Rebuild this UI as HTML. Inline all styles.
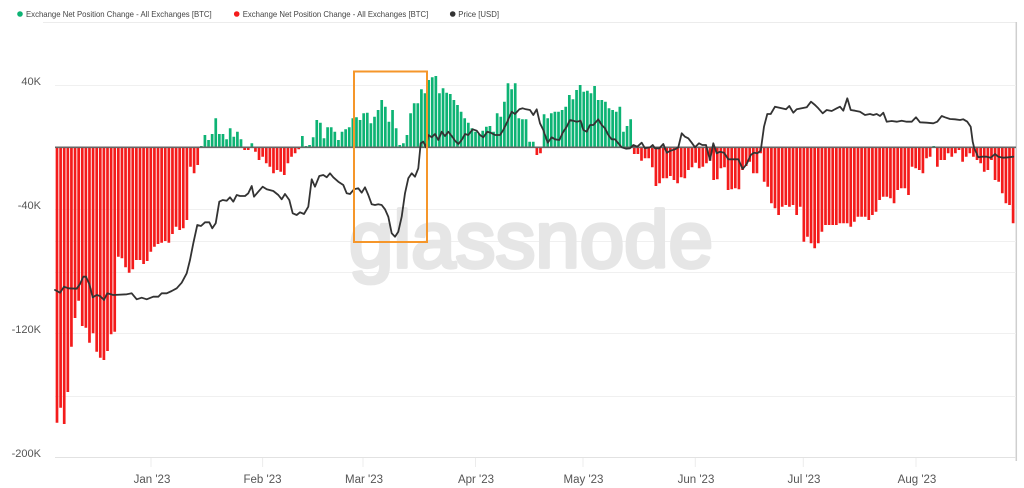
<!DOCTYPE html>
<html>
<head>
<meta charset="utf-8">
<style>
html,body{margin:0;padding:0;background:#fff;}
body{width:1024px;height:488px;overflow:hidden;}
svg{display:block;font-family:"Liberation Sans",sans-serif;}
</style>
</head>
<body>
<svg width="1024" height="488" viewBox="0 0 1024 488" xmlns="http://www.w3.org/2000/svg">
<!-- legend -->
<circle cx="20" cy="14" r="2.8" fill="#0db374"/>
<text x="26" y="17" font-size="8.5" fill="#444" textLength="185.7" lengthAdjust="spacingAndGlyphs">Exchange Net Position Change - All Exchanges [BTC]</text>
<circle cx="236.7" cy="14" r="2.8" fill="#f41b1b"/>
<text x="242.7" y="17" font-size="8.5" fill="#444" textLength="185.6" lengthAdjust="spacingAndGlyphs">Exchange Net Position Change - All Exchanges [BTC]</text>
<circle cx="452.7" cy="14" r="2.8" fill="#333"/>
<text x="458.3" y="17" font-size="8.5" fill="#444" textLength="40.7" lengthAdjust="spacingAndGlyphs">Price [USD]</text>

<!-- frame -->
<line x1="43" y1="22.5" x2="1016" y2="22.5" stroke="#ececec" stroke-width="1"/>
<line x1="1016.3" y1="22" x2="1016.3" y2="461" stroke="#cfcfcf" stroke-width="1.5"/>

<!-- gridlines -->
<g stroke="#f0f0f0" stroke-width="1">
<line x1="55" y1="85.5" x2="1016" y2="85.5"/>
<line x1="55" y1="209.5" x2="1016" y2="209.5"/>
<line x1="55" y1="241.5" x2="1016" y2="241.5"/>
<line x1="55" y1="272.5" x2="1016" y2="272.5"/>
<line x1="55" y1="333.5" x2="1016" y2="333.5"/>
<line x1="55" y1="396.5" x2="1016" y2="396.5"/>
</g>
<line x1="55" y1="457.5" x2="1016" y2="457.5" stroke="#e2e2e2" stroke-width="1"/>
<g stroke="#ececec" stroke-width="1">
<line x1="151" y1="458" x2="151" y2="467"/>
<line x1="262.6" y1="458" x2="262.6" y2="467"/>
<line x1="363" y1="458" x2="363" y2="467"/>
<line x1="475.5" y1="458" x2="475.5" y2="467"/>
<line x1="583" y1="458" x2="583" y2="467"/>
<line x1="695.3" y1="458" x2="695.3" y2="467"/>
<line x1="803.3" y1="458" x2="803.3" y2="467"/>
<line x1="916" y1="458" x2="916" y2="467"/>
</g>

<!-- watermark -->
<text x="349" y="267" font-size="80" fill="#e6e6e6" stroke="#e6e6e6" stroke-width="3.8" stroke-linejoin="round" textLength="364" lengthAdjust="spacingAndGlyphs">glassnode</text>

<!-- red bars -->
<path fill="#f41b1b" d="M55.65 147
V422.7h2.7V147zm3.608 0V407.7h2.7V147zm3.608 0V424h2.7V147zm3.608 0V392h2.7V147zm3.608 0V346.7h2.7V147zm3.608 0V318h2.7V147zm3.608 0V300.7h2.7V147zm3.608 0V326h2.7V147zm3.608 0V327.7h2.7V147zm3.608 0V342.7h2.7V147zm3.608 0
V333.3h2.7V147zm3.608 0V351.7h2.7V147zm3.608 0V357.7h2.7V147zm3.608 0V360h2.7V147zm3.608 0V351h2.7V147zm3.608 0V334.3h2.7V147zm3.608 0V331.7h2.7V147zm3.608 0V256.7h2.7V147zm3.608 0V258.3h2.7V147zm3.608 0V267.3h2.7V147zm3.608 0
V272.7h2.7V147zm3.608 0V269.3h2.7V147zm3.608 0V260h2.7V147zm3.608 0V260h2.7V147zm3.608 0V264h2.7V147zm3.608 0V261h2.7V147zm3.608 0V251.7h2.7V147zm3.608 0V246.7h2.7V147zm3.608 0V244h2.7V147zm3.608 0V242.7h2.7V147zm3.608 0
V241h2.7V147zm3.608 0V242.7h2.7V147zm3.608 0V234h2.7V147zm3.608 0V226.7h2.7V147zm3.608 0V230h2.7V147zm3.608 0V228.3h2.7V147zm3.608 0V220h2.7V147zm3.608 0V166.7h2.7V147zm3.608 0V173.3h2.7V147zm3.608 0V165h2.7V147zm3.608 0
m43.296 0
V150h2.7V147zm3.608 0V150h2.7V147zm3.608 0
m3.608 0
V151.7h2.7V147zm3.608 0V160h2.7V147zm3.608 0V156.7h2.7V147zm3.608 0V163.3h2.7V147zm3.608 0V166.7h2.7V147zm3.608 0V173.3h2.7V147zm3.608 0V170h2.7V147zm3.608 0V171.7h2.7V147zm3.608 0V175h2.7V147zm3.608 0V163.3h2.7V147zm3.608 0V156.7h2.7V147zm3.608 0V153.3h2.7V147zm3.608 0V149.3h2.7V147zm3.608 0
m234.52 0
V155h2.7V147zm3.608 0V153.3h2.7V147zm3.608 0
m90.2 0
V154h2.7V147zm3.608 0V154h2.7V147zm3.608 0V160.7h2.7V147zm3.608 0V158.3h2.7V147zm3.608 0V158.3h2.7V147zm3.608 0V167.3h2.7V147zm3.608 0V186h2.7V147zm3.608 0V183.3h2.7V147zm3.608 0V178.3h2.7V147zm3.608 0V178.3h2.7V147zm3.608 0
V176h2.7V147zm3.608 0V180h2.7V147zm3.608 0V183.3h2.7V147zm3.608 0V177.3h2.7V147zm3.608 0V178.3h2.7V147zm3.608 0V170h2.7V147zm3.608 0V167.3h2.7V147zm3.608 0V162.7h2.7V147zm3.608 0V168.3h2.7V147zm3.608 0V166.7h2.7V147zm3.608 0
V163.3h2.7V147zm3.608 0V160.7h2.7V147zm3.608 0V180h2.7V147zm3.608 0V179.3h2.7V147zm3.608 0V168.3h2.7V147zm3.608 0V167.3h2.7V147zm3.608 0V190h2.7V147zm3.608 0V189.3h2.7V147zm3.608 0V188.3h2.7V147zm3.608 0V189.3h2.7V147zm3.608 0
V170h2.7V147zm3.608 0V166h2.7V147zm3.608 0
V161.7h2.7V147zm3.608 0V173.3h2.7V147zm3.608 0V173.3h2.7V147zm3.608 0V153.3h2.7V147zm3.608 0V181.7h2.7V147zm3.608 0V186.7h2.7V147zm3.608 0V203.3h2.7V147zm3.608 0V208.3h2.7V147zm3.608 0V215h2.7V147zm3.608 0
V206.7h2.7V147zm3.608 0V205h2.7V147zm3.608 0V206.7h2.7V147zm3.608 0V205h2.7V147zm3.608 0V215h2.7V147zm3.608 0V206.7h2.7V147zm3.608 0V241.7h2.7V147zm3.608 0V236.7h2.7V147zm3.608 0V243.3h2.7V147zm3.608 0V248.3h2.7V147zm3.608 0
V243.3h2.7V147zm3.608 0V231.7h2.7V147zm3.608 0V225h2.7V147zm3.608 0V225h2.7V147zm3.608 0V225h2.7V147zm3.608 0V225h2.7V147zm3.608 0V223.3h2.7V147zm3.608 0V223.3h2.7V147zm3.608 0V223.3h2.7V147zm3.608 0V226.7h2.7V147zm3.608 0
V221.7h2.7V147zm3.608 0V216.7h2.7V147zm3.608 0V216.7h2.7V147zm3.608 0V216.7h2.7V147zm3.608 0V220h2.7V147zm3.608 0V215h2.7V147zm3.608 0V211.7h2.7V147zm3.608 0V200h2.7V147zm3.608 0V196.7h2.7V147zm3.608 0V196.7h2.7V147zm3.608 0
V198.3h2.7V147zm3.608 0V203.3h2.7V147zm3.608 0V190h2.7V147zm3.608 0V188.3h2.7V147zm3.608 0V188.3h2.7V147zm3.608 0V195h2.7V147zm3.608 0V166.7h2.7V147zm3.608 0V168.3h2.7V147zm3.608 0V170h2.7V147zm3.608 0V173.3h2.7V147zm3.608 0
V158.3h2.7V147zm3.608 0V156.7h2.7V147zm3.608 0
m3.608 0
V166.7h2.7V147zm3.608 0V160h2.7V147zm3.608 0V160h2.7V147zm3.608 0V153.3h2.7V147zm3.608 0V156.7h2.7V147zm3.608 0V153.3h2.7V147zm3.608 0V150h2.7V147zm3.608 0V161.7h2.7V147zm3.608 0V156.7h2.7V147zm3.608 0V153.3h2.7V147zm3.608 0
V156.7h2.7V147zm3.608 0V160h2.7V147zm3.608 0V163.3h2.7V147zm3.608 0V171.7h2.7V147zm3.608 0V170h2.7V147zm3.608 0V160h2.7V147zm3.608 0V180h2.7V147zm3.608 0V181.7h2.7V147zm3.608 0V193.3h2.7V147zm3.608 0V203.3h2.7V147zm3.608 0
V205h2.7V147zm3.608 0V223.3h2.7V147zm3.608 0"/>

<!-- green bars -->
<path fill="#0db374" d="M55.65 147 m144.32 0
V146h2.7V147zm3.608 0V135h2.7V147zm3.608 0V140h2.7V147zm3.608 0V134h2.7V147zm3.608 0V118.3h2.7V147zm3.608 0V134h2.7V147zm3.608 0V134h2.7V147zm3.608 0V139.3h2.7V147zm3.608 0V128.3h2.7V147zm3.608 0V136.7h2.7V147zm3.608 0
V131.7h2.7V147zm3.608 0V139.3h2.7V147zm3.608 0
m7.216 0
V143.3h2.7V147zm3.608 0
m46.904 0
V136h2.7V147zm3.608 0V146h2.7V147zm3.608 0V145h2.7V147zm3.608 0V137.3h2.7V147zm3.608 0V120h2.7V147zm3.608 0V122.7h2.7V147zm3.608 0V138.3h2.7V147zm3.608 0V127.3h2.7V147zm3.608 0V127.3h2.7V147zm3.608 0V131.7h2.7V147zm3.608 0
V140h2.7V147zm3.608 0V131.7h2.7V147zm3.608 0V129.3h2.7V147zm3.608 0V127.3h2.7V147zm3.608 0V118.3h2.7V147zm3.608 0V117.3h2.7V147zm3.608 0V120h2.7V147zm3.608 0V113.3h2.7V147zm3.608 0V112.7h2.7V147zm3.608 0V123.3h2.7V147zm3.608 0
V116.7h2.7V147zm3.608 0V110h2.7V147zm3.608 0V100h2.7V147zm3.608 0V106.7h2.7V147zm3.608 0V121.7h2.7V147zm3.608 0V110h2.7V147zm3.608 0V128.3h2.7V147zm3.608 0V145h2.7V147zm3.608 0V143.3h2.7V147zm3.608 0V135h2.7V147zm3.608 0
V113.3h2.7V147zm3.608 0V103.3h2.7V147zm3.608 0V103.3h2.7V147zm3.608 0V89.3h2.7V147zm3.608 0V93.3h2.7V147zm3.608 0V80h2.7V147zm3.608 0V77.3h2.7V147zm3.608 0V76h2.7V147zm3.608 0V93.3h2.7V147zm3.608 0V88.3h2.7V147zm3.608 0
V92.7h2.7V147zm3.608 0V94h2.7V147zm3.608 0V100h2.7V147zm3.608 0V105h2.7V147zm3.608 0V111.7h2.7V147zm3.608 0V118.3h2.7V147zm3.608 0V122.7h2.7V147zm3.608 0V128.3h2.7V147zm3.608 0V131.7h2.7V147zm3.608 0V134h2.7V147zm3.608 0
V130.7h2.7V147zm3.608 0V126.7h2.7V147zm3.608 0V126h2.7V147zm3.608 0V131.7h2.7V147zm3.608 0V113.3h2.7V147zm3.608 0V116.7h2.7V147zm3.608 0V101.7h2.7V147zm3.608 0V83.3h2.7V147zm3.608 0V89.3h2.7V147zm3.608 0V83.3h2.7V147zm3.608 0
V118.3h2.7V147zm3.608 0V119.3h2.7V147zm3.608 0V119.3h2.7V147zm3.608 0V141.7h2.7V147zm3.608 0V141.7h2.7V147zm3.608 0
m7.216 0
V114.3h2.7V147zm3.608 0V118.3h2.7V147zm3.608 0V113.3h2.7V147zm3.608 0V111.7h2.7V147zm3.608 0V111.7h2.7V147zm3.608 0V110h2.7V147zm3.608 0V106.7h2.7V147zm3.608 0V95h2.7V147zm3.608 0V99.3h2.7V147zm3.608 0V90h2.7V147zm3.608 0
V85h2.7V147zm3.608 0V91.7h2.7V147zm3.608 0V90.7h2.7V147zm3.608 0V93.3h2.7V147zm3.608 0V86h2.7V147zm3.608 0V100h2.7V147zm3.608 0V100h2.7V147zm3.608 0V101.7h2.7V147zm3.608 0V108.3h2.7V147zm3.608 0V110h2.7V147zm3.608 0
V111.7h2.7V147zm3.608 0V106.7h2.7V147zm3.608 0V131.7h2.7V147zm3.608 0V126h2.7V147zm3.608 0V119.3h2.7V147zm3.608 0
m299.464 0
V146h2.7V147zm3.608 0"/>

<!-- zero baseline -->
<line x1="55" y1="147.3" x2="1016" y2="147.3" stroke="#666" stroke-width="1.6"/>

<!-- price line -->
<polyline fill="none" stroke="#333" stroke-width="1.8" stroke-linejoin="round" stroke-linecap="round" points="55,290 60,292.7 64,286.7 68.3,288.3 76.7,288.7 80,284 83.3,276.7 86,276.7 89.3,284 92.7,297.3 96.7,295 100,296 104,300 107.3,293.3 113.3,295 126.7,294.3 131.7,293.3 136.7,299.3 141.7,297.7 146.7,299.3 153.3,296.7 158.3,296.7 161.7,293.3 166.7,293.3 171.7,291 176.7,288.3 181.7,282.7 186.7,273.3 190,260 193.3,243.3 197.3,225 201,226 205,222.3 209.3,222.3 212.3,228.3 215.7,223.3 219.3,201.7 222.7,200 226.7,200.7 230,197.3 233.3,201.7 236.7,195 240,196 245,196 248.3,193.3 251.7,186 254,196.7 258.3,191.7 262.7,186.7 266.7,189.3 273.3,191 278.3,195 281.7,199.3 285,194 289.3,200 292.7,213.3 296.7,215 300,212.3 304,214 308.3,206.7 311.7,179.3 315,186.7 319.3,176 323.3,175 326.7,177.3 330,173.3 333.3,177.3 338.3,181.7 343.3,185 346.7,193.3 350,194 354,189.3 358.3,188.3 361.7,192.7 365,187.3 368.3,195 371.7,204.3 375,205 378.3,204.3 381.7,205 385,209.3 388.3,216.7 391.7,233.3 395,236.7 398.3,231.7 401.7,216.7 405,193.3 408.3,178.3 411.7,173.3 415,176.7 418.3,168.3 420.7,143.3 423.3,141.7 426,147.3 428.3,135 431.7,137.3 435,134 438.3,140 441.7,131.7 445,136 448.3,131.7 451.7,136 455,140.7 458.3,144 461.7,140 465,134 468.3,135 472.7,129.3 476.7,130.7 480,135 483.3,137.3 487.3,131.7 490.7,132.7 495,135 500,135 503.3,130 507.3,121.7 511.7,111.7 515,114 519.3,109.3 522.7,108.3 526,109.3 530,110 533.3,115 536.7,109.3 540,123.3 543.3,130 547.7,142.7 551.7,137.3 555,139.3 559.3,140 563.3,131.7 566.7,126.7 570,120 573.3,120.7 576.7,121.7 580.7,120.7 583.3,130 586.7,131.7 590,125 593.3,125 598.3,119.3 601.7,125 605,128.3 608.3,135 611.7,139.3 615,139.3 618.3,143.3 621.7,147.3 626,148.7 630,148.3 633.3,145 637.3,146.7 641.7,142.7 645,148.3 650,147.3 652.7,145 655,148.3 659.3,148.3 663.3,144 666.7,152.7 670.7,150.7 675,149.3 678.3,147.3 681.7,133.3 685,136.7 688.3,138.3 691.7,142.7 695,147.3 699,143.3 702.3,145 706,145 710,160 713.3,143.3 716.7,153.3 720,151.7 724,152.7 728.3,159.3 733.3,159.3 738.3,159.3 742.7,169 746.7,164 750.7,155 754,152.7 757.3,153.3 760.7,150.7 764,126.7 767.3,114 770.7,114 775,106.7 781.7,108.3 786,109.3 789.3,106 793.3,112.7 796.7,109.3 801.7,108.3 806.7,107.3 811,101.7 815,105 818.3,108.3 822.7,113.3 826.7,110 831.7,111 836.7,108.3 840,106.7 843.3,110.7 847.3,98.3 850.7,110 855,110.7 860,111.7 865,115 870,114 873.3,115 876.7,114 880,116 883.3,112.7 886.7,121.7 891.7,121 896.7,121.7 901.7,120.7 906.7,121.7 911.7,121.7 916,117.3 920,122.3 926.7,122.7 933.3,123.3 937.3,121.7 941.7,116 945,117.3 950,119 955,119.3 960,120 963.3,119.3 967.3,121.7 970.7,126.7 972.7,141.7 974.3,148.3 978.3,157.3 981.7,156.7 986.7,156.7 990.7,157.7 995,154 998.3,156.7 1003.3,157.7 1008.3,157.3 1013.3,156.7"/>

<!-- highlight box -->
<rect x="354" y="71.5" width="73" height="170.5" fill="none" stroke="#f5962a" stroke-width="2"/>

<!-- y labels -->
<g font-size="11" fill="#555" text-anchor="end">
<text x="41" y="85">40K</text>
<text x="41" y="209">-40K</text>
<text x="41" y="333">-120K</text>
<text x="41" y="457">-200K</text>
</g>

<!-- x labels -->
<g font-size="11.5" fill="#555" text-anchor="middle">
<text x="152" y="483">Jan '23</text>
<text x="262.5" y="483">Feb '23</text>
<text x="364" y="483">Mar '23</text>
<text x="476" y="483">Apr '23</text>
<text x="583.5" y="483">May '23</text>
<text x="696" y="483">Jun '23</text>
<text x="804" y="483">Jul '23</text>
<text x="917" y="483">Aug '23</text>
</g>
</svg>
</body>
</html>
